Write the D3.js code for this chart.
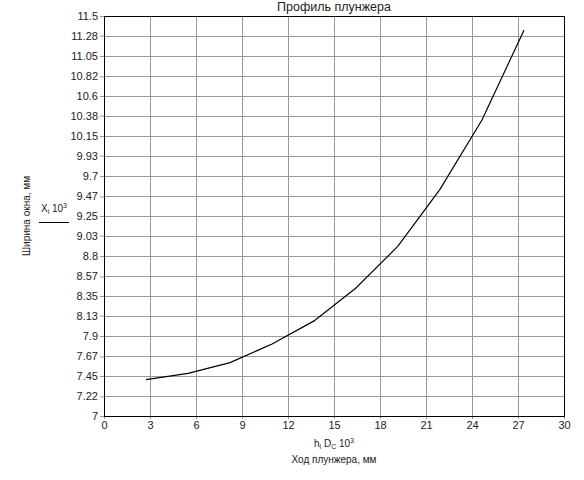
<!DOCTYPE html>
<html>
<head>
<meta charset="utf-8">
<script src="https://cdn.jsdelivr.net/npm/d3@7"></script>
<style>
  body { margin: 0; background: #fff; }
  text { font-family: "Liberation Sans", Arial, sans-serif; fill: #222; }
</style>
</head>
<body>
<div id="chart"></div>
<script>
// stroke of the plunger (x) and window width (y)
var hValues = [2.74, 5.48, 8.22, 10.96, 13.7, 16.43, 19.17, 21.91, 24.65, 27.39];
var xValues = [7.41, 7.48, 7.60, 7.81, 8.07, 8.44, 8.91, 9.55, 10.33, 11.34];

var xTicks = [0, 3, 6, 9, 12, 15, 18, 21, 24, 27, 30];
var yTicks = [7, 7.22, 7.45, 7.67, 7.9, 8.13, 8.35, 8.57, 8.8, 9.03, 9.25,
              9.47, 9.7, 9.93, 10.15, 10.38, 10.6, 10.82, 11.05, 11.28, 11.5];

var width = 584, height = 480;
var margin = {top: 16, right: 20, bottom: 64, left: 104};
var w = width - margin.left - margin.right,
    h = height - margin.top - margin.bottom;

var x = d3.scaleLinear().domain([0, 30]).range([0, w]);
var y = d3.scaleLinear().domain([7, 11.5]).range([h, 0]);

var svg = d3.select('#chart')
  .append('svg')
  .attr('width', width)
  .attr('height', height);

svg.append('rect').attr('width', width).attr('height', height).attr('fill', '#fff');

var g = svg.append('g')
  .attr('transform', 'translate(' + margin.left + ',' + margin.top + ')');

// grid
g.append('g').selectAll('line').data(xTicks.slice(1, -1)).enter()
  .append('line')
  .attr('x1', function(d) { return Math.round(x(d)) + 0.5; })
  .attr('x2', function(d) { return Math.round(x(d)) + 0.5; })
  .attr('y1', 0).attr('y2', h)
  .attr('stroke', '#999');

g.append('g').selectAll('line').data(yTicks.slice(1, -1)).enter()
  .append('line')
  .attr('x1', 0).attr('x2', w)
  .attr('y1', function(d) { return Math.round(y(d)) + 0.5; })
  .attr('y2', function(d) { return Math.round(y(d)) + 0.5; })
  .attr('stroke', '#999');

// axes
var fmt = function(d) { return String(d); };
var xAxis = g.append('g')
  .attr('transform', 'translate(0,' + h + ')')
  .call(d3.axisBottom(x).tickValues(xTicks).tickFormat(fmt).tickSize(3).tickPadding(2));
var yAxis = g.append('g')
  .call(d3.axisLeft(y).tickValues(yTicks).tickFormat(fmt).tickSize(4).tickPadding(2));

[xAxis, yAxis].forEach(function(a) {
  a.select('.domain').remove();
  a.selectAll('line').attr('stroke', '#999');
  a.selectAll('text').attr('font-size', 11).attr('fill', '#222')
    .attr('font-family', '"Liberation Sans", Arial, sans-serif');
});

// frame
g.append('rect')
  .attr('x', 0.5).attr('y', 0.5)
  .attr('width', w).attr('height', h)
  .attr('fill', 'none')
  .attr('stroke', '#000');

// curve
var line = d3.line()
  .x(function(d, i) { return x(hValues[i]); })
  .y(function(d) { return y(d); });

g.append('path')
  .datum(xValues)
  .attr('d', line)
  .attr('fill', 'none')
  .attr('stroke', '#000')
  .attr('stroke-width', 1.2);

// title
svg.append('text')
  .attr('x', margin.left + w / 2)
  .attr('y', 11)
  .attr('text-anchor', 'middle')
  .attr('font-size', 12.5)
  .attr('fill', '#000')
  .text('Профиль плунжера');

// x axis title
var xt = svg.append('text')
  .attr('x', margin.left + w / 2)
  .attr('y', 447)
  .attr('text-anchor', 'middle')
  .attr('font-size', 10);
xt.append('tspan').text('h');
xt.append('tspan').attr('font-size', 7).attr('dy', 2).text('i');
xt.append('tspan').attr('dy', -2).text(' D');
xt.append('tspan').attr('font-size', 7).attr('dy', 2).text('C');
xt.append('tspan').attr('dy', -2).text(' 10');
xt.append('tspan').attr('font-size', 7).attr('dy', -4).text('3');

svg.append('text')
  .attr('x', margin.left + w / 2)
  .attr('y', 463)
  .attr('text-anchor', 'middle')
  .attr('font-size', 10)
  .text('Ход плунжера, мм');

// y axis title
svg.append('text')
  .attr('transform', 'translate(30,216) rotate(-90)')
  .attr('text-anchor', 'middle')
  .attr('font-size', 10)
  .text('Ширина окна, мм');

var yt = svg.append('text')
  .attr('x', 54)
  .attr('y', 212)
  .attr('text-anchor', 'middle')
  .attr('font-size', 10);
yt.append('tspan').text('X');
yt.append('tspan').attr('font-size', 7).attr('dy', 2).text('i');
yt.append('tspan').attr('dy', -2).text(' 10');
yt.append('tspan').attr('font-size', 7).attr('dy', -4).text('3');

svg.append('line')
  .attr('x1', 39).attr('x2', 69)
  .attr('y1', 222.5).attr('y2', 222.5)
  .attr('stroke', '#000');
</script>
</body>
</html>
